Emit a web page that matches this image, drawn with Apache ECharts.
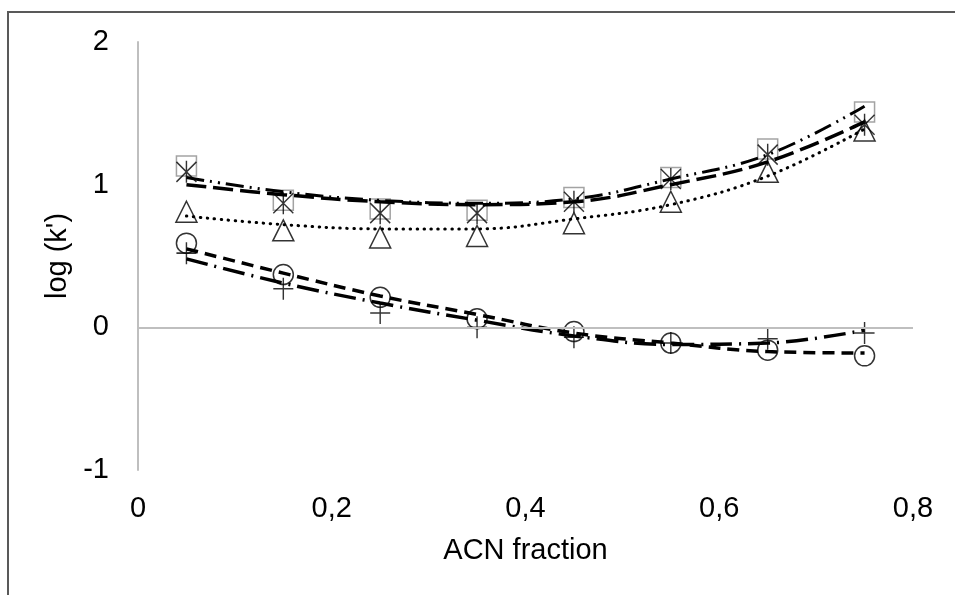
<!DOCTYPE html>
<html>
<head>
<meta charset="utf-8">
<script src="https://cdn.jsdelivr.net/npm/echarts@6/dist/echarts.min.js"></script>
<style>
  html, body { margin: 0; padding: 0; background: #fff; }
  #main { width: 955px; height: 595px; }
</style>
</head>
<body>
<div id="main"></div>
<script>
// ACN fraction (x) for every measured point
var acnFraction = [0.05, 0.15, 0.25, 0.35, 0.45, 0.55, 0.65, 0.75];

// measured log(k') per compound (marker series)
var squareVals   = [1.13, 0.89, 0.83, 0.82, 0.91, 1.05, 1.25, 1.51];
var starVals     = [1.09, 0.87, 0.80, 0.80, 0.88, 1.04, 1.21, 1.42];
var triangleVals = [0.81, 0.68, 0.63, 0.64, 0.73, 0.88, 1.09, 1.38];
var circleVals   = [0.59, 0.37, 0.21, 0.06, -0.03, -0.11, -0.16, -0.20];
var plusVals     = [0.52, 0.27, 0.10, 0.00, -0.07, -0.11, -0.08, -0.04];

// trend lines at the same x values
var squareTrend   = [1.05, 0.95, 0.89, 0.87, 0.90, 1.04, 1.21, 1.55];
var starTrend     = [1.00, 0.93, 0.88, 0.86, 0.88, 1.00, 1.16, 1.44];
var triangleTrend = [0.78, 0.72, 0.69, 0.69, 0.76, 0.86, 1.06, 1.39];
var circleTrend   = [0.55, 0.38, 0.22, 0.09, -0.04, -0.11, -0.17, -0.18];
var plusTrend     = [0.48, 0.31, 0.17, 0.05, -0.06, -0.12, -0.11, -0.02];

var xTicks = [0, 0.2, 0.4, 0.6, 0.8];
var yTicks = [-1, 0, 1, 2];

var FONT = "'Liberation Sans', Arial, sans-serif";

function pairs(vals) {
  return acnFraction.map(function (x, i) { return [x, vals[i]]; });
}

function markers(name, vals, symbol, size, color) {
  return {
    name: name,
    type: 'scatter',
    data: pairs(vals),
    symbol: symbol,
    symbolSize: size,
    itemStyle: { color: 'none', borderColor: color, borderWidth: 1.5 },
    z: 2
  };
}

function trend(name, vals, dash, width, cap) {
  return {
    name: name,
    type: 'line',
    data: pairs(vals),
    showSymbol: false,
    smooth: 0.4,
    lineStyle: { color: '#000', width: width, type: dash, cap: cap || 'butt' },
    z: 3
  };
}

var myChart = echarts.init(document.getElementById('main'));

var option = {
  backgroundColor: '#fff',
  animation: false,
  textStyle: { fontFamily: FONT },
  graphic: [{
    type: 'rect',
    shape: { x: 8, y: 12, width: 1200, height: 800 },
    style: { fill: 'none', stroke: '#595959', lineWidth: 2 },
    silent: true
  }],
  grid: { left: 138, right: 42, top: 42, bottom: 125 },
  xAxis: {
    type: 'value',
    min: xTicks[0],
    max: xTicks[xTicks.length - 1],
    interval: 0.2,
    name: 'ACN fraction',
    nameLocation: 'middle',
    nameGap: 66,
    nameTextStyle: { fontSize: 29, color: '#000', fontFamily: FONT },
    axisLine: { show: false, onZero: false },
    axisTick: { show: false },
    splitLine: { show: false },
    axisLabel: {
      fontSize: 29,
      color: '#000',
      margin: 24,
      fontFamily: FONT,
      formatter: function (v) { return String(Math.round(v * 10) / 10).replace('.', ','); }
    }
  },
  yAxis: {
    type: 'value',
    min: yTicks[0],
    max: yTicks[yTicks.length - 1],
    interval: 1,
    name: "log (k')",
    nameLocation: 'middle',
    nameGap: 61,
    nameTextStyle: { fontSize: 29, color: '#000', fontFamily: FONT },
    axisLine: { show: true, lineStyle: { color: '#bfbfbf', width: 2 } },
    axisTick: { show: false },
    splitLine: { show: false },
    axisLabel: { fontSize: 29, color: '#000', margin: 29, fontFamily: FONT }
  },
  series: [
    {
      name: 'zero',
      type: 'line',
      data: [],
      markLine: {
        silent: true,
        symbol: 'none',
        label: { show: false },
        lineStyle: { color: '#bfbfbf', width: 2, type: 'solid' },
        data: [{ yAxis: 0 }]
      },
      z: 1
    },
    markers('square', squareVals, 'rect', 20, '#8c8c8c'),
    markers('star', starVals, 'path://M0,1L20,21M20,1L0,21M10,0L10,22', [20, 22], '#000'),
    markers('triangle', triangleVals, 'triangle', [21, 21], '#000'),
    markers('circle', circleVals, 'circle', 20, '#000'),
    markers('plus', plusVals, 'path://M0,11L20,11M10,0L10,22', [20, 22], '#000'),
    trend('square trend', squareTrend, [18, 6, 2, 6, 2, 6], 3),
    trend('star trend', starTrend, [20, 7], 3.5),
    trend('triangle trend', triangleTrend, [0.5, 6.5], 3, 'round'),
    trend('circle trend', circleTrend, [12, 7], 3.5),
    trend('plus trend', plusTrend, [22, 7, 2, 7], 3.5)
  ]
};

option && myChart.setOption(option);
</script>
</body>
</html>
